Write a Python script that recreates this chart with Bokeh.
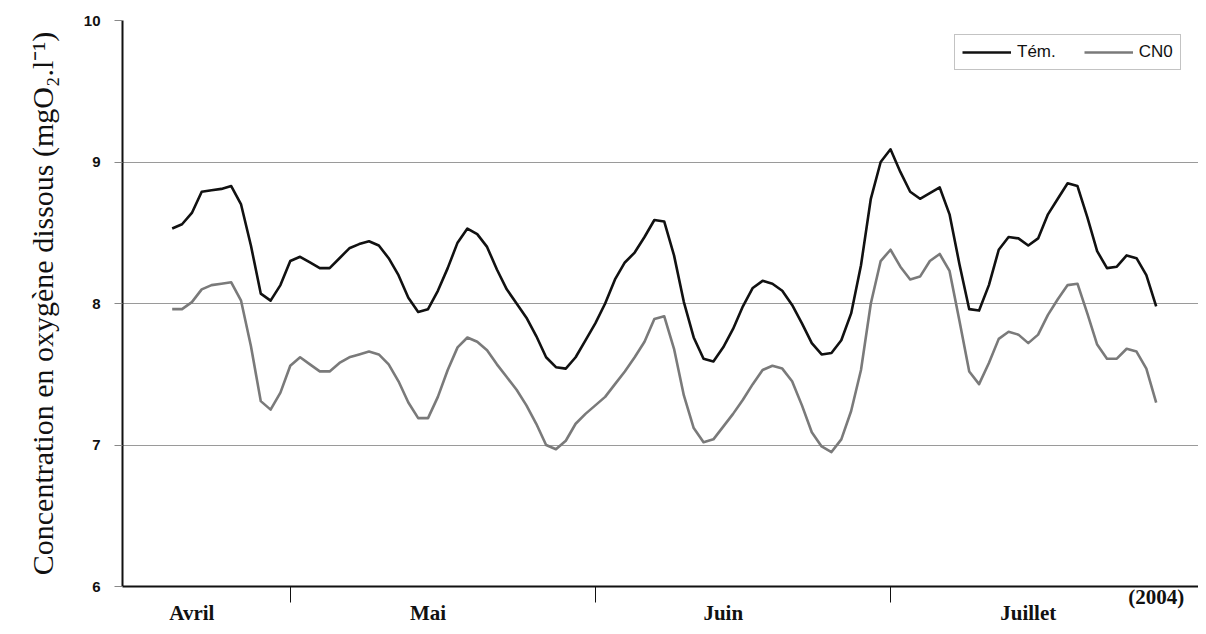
from bokeh.plotting import figure
from bokeh.models import FixedTicker, Legend, LegendItem, Range1d
from bokeh.embed import file_html
from bokeh.resources import INLINE

# Day number counted from 1 April 2004 (1 April = 0); daily readings 19 April -> 28 July
jour = list(range(18, 119))

temoin = [8.53, 8.56, 8.64, 8.79, 8.80, 8.81, 8.83, 8.70, 8.41, 8.07,
          8.02, 8.13, 8.30, 8.33, 8.29, 8.25, 8.25, 8.32, 8.39, 8.42,
          8.44, 8.41, 8.32, 8.20, 8.04, 7.94, 7.96, 8.09, 8.25, 8.43,
          8.53, 8.49, 8.40, 8.24, 8.10, 8.00, 7.90, 7.77, 7.62, 7.55,
          7.54, 7.62, 7.74, 7.86, 8.00, 8.17, 8.29, 8.36, 8.47, 8.59,
          8.58, 8.34, 8.01, 7.76, 7.61, 7.59, 7.69, 7.82, 7.98, 8.11,
          8.16, 8.14, 8.09, 7.99, 7.86, 7.72, 7.64, 7.65, 7.74, 7.93,
          8.27, 8.74, 9.00, 9.09, 8.93, 8.79, 8.74, 8.78, 8.82, 8.63,
          8.28, 7.96, 7.95, 8.13, 8.38, 8.47, 8.46, 8.41, 8.46, 8.63,
          8.74, 8.85, 8.83, 8.61, 8.37, 8.25, 8.26, 8.34, 8.32, 8.20,
          7.98]

cn0 = [7.96, 7.96, 8.01, 8.10, 8.13, 8.14, 8.15, 8.02, 7.70, 7.31,
       7.25, 7.37, 7.56, 7.62, 7.57, 7.52, 7.52, 7.58, 7.62, 7.64,
       7.66, 7.64, 7.57, 7.45, 7.30, 7.19, 7.19, 7.34, 7.53, 7.69,
       7.76, 7.73, 7.67, 7.57, 7.48, 7.39, 7.28, 7.15, 7.00, 6.97,
       7.03, 7.15, 7.22, 7.28, 7.34, 7.43, 7.52, 7.62, 7.73, 7.89,
       7.91, 7.68, 7.35, 7.12, 7.02, 7.04, 7.13, 7.22, 7.32, 7.43,
       7.53, 7.56, 7.54, 7.45, 7.28, 7.09, 6.99, 6.95, 7.04, 7.24,
       7.53, 8.00, 8.30, 8.38, 8.26, 8.17, 8.19, 8.30, 8.35, 8.23,
       7.88, 7.52, 7.43, 7.58, 7.75, 7.80, 7.78, 7.72, 7.78, 7.92,
       8.03, 8.13, 8.14, 7.93, 7.71, 7.61, 7.61, 7.68, 7.66, 7.54,
       7.30]

mois = ["Avril", "Mai", "Juin", "Juillet"]
mois_centres = [20, 44, 74, 105]
debuts_mois = [30, 61, 91]
y_ticks = [6, 7, 8, 9, 10]
annee = "(2004)"
annee_pos = 118

p = figure(width=1198, height=630, output_backend="svg", toolbar_location=None,
           x_range=Range1d(12.95, 122.3), y_range=Range1d(6, 10),
           min_border_left=122, min_border_right=0, min_border_top=20,
           min_border_bottom=44)
p.outline_line_color = None
p.background_fill_color = "white"
p.border_fill_color = "white"

r1 = p.line(jour, temoin, line_color="#111111", line_width=2.6, line_join="round")
r2 = p.line(jour, cn0, line_color="#7a7a7a", line_width=2.6, line_join="round")

# grid
p.xgrid.visible = False
p.ygrid.ticker = FixedTicker(ticks=y_ticks)
p.ygrid.grid_line_color = "#9a9a9a"
p.ygrid.grid_line_width = 1

# y axis
ya = p.yaxis[0]
ya.ticker = FixedTicker(ticks=y_ticks)
ya.axis_line_color = "#111111"
ya.axis_line_width = 2
ya.major_tick_out = 8
ya.major_tick_in = 0
ya.major_tick_line_color = "#888888"
ya.minor_tick_line_color = None
ya.major_label_text_font = "Liberation Sans"
ya.major_label_text_font_style = "bold"
ya.major_label_text_font_size = "15px"
ya.major_label_text_color = "#111111"
ya.major_label_standoff = 14
ya.axis_label = "Concentration en oxygène dissous (mgO₂.l⁻¹)"
ya.axis_label_text_font = "Liberation Serif"
ya.axis_label_text_font_style = "normal"
ya.axis_label_text_font_size = "30px"
ya.axis_label_text_color = "#111111"
ya.axis_label_standoff = 22

# x axis: month names (second line) and the year (first line) as tick labels,
# month boundaries as minor ticks
labels_x = {c: "\n" + m for c, m in zip(mois_centres, mois)}
labels_x[annee_pos] = annee
xa = p.xaxis[0]
xa.ticker = FixedTicker(ticks=mois_centres + [annee_pos], minor_ticks=debuts_mois)
xa.major_label_overrides = labels_x
xa.axis_line_color = "#111111"
xa.axis_line_width = 2
xa.major_tick_line_color = None
xa.major_tick_out = 0
xa.major_tick_in = 0
xa.minor_tick_line_color = "#111111"
xa.minor_tick_line_width = 1
xa.minor_tick_out = 16
xa.minor_tick_in = 0
xa.major_label_text_font = "Liberation Serif"
xa.major_label_text_font_style = "bold"
xa.major_label_text_font_size = "21px"
xa.major_label_text_line_height = 0.68
xa.major_label_text_color = "#111111"
xa.major_label_standoff = -18

legend = Legend(items=[LegendItem(label="Tém.", renderers=[r1]),
                       LegendItem(label="CN0", renderers=[r2])],
                orientation="horizontal", location=(832, 516),
                glyph_width=49, glyph_height=16, label_standoff=6, spacing=28,
                padding=7, margin=0, border_line_color="#888888",
                border_line_width=1, background_fill_color="white",
                label_text_font="Liberation Sans", label_text_font_size="17px",
                label_text_color="#111111")
p.add_layout(legend)

open("out.html", "w").write(file_html(p, INLINE))
